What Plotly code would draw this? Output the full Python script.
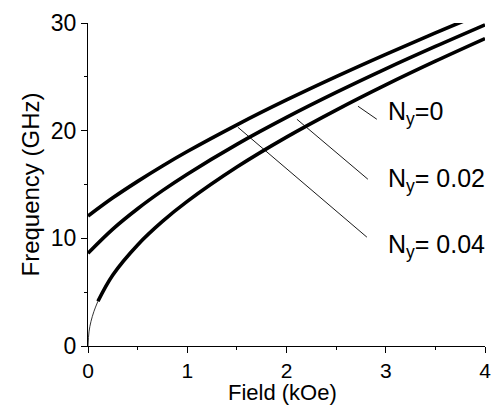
import plotly.graph_objects as go

# Field values (kOe)
field = [0.0, 0.25, 0.5, 0.75, 1.0, 1.5, 2.0, 2.5, 3.0, 3.5, 4.0]
# Frequencies (GHz)
freq_ny004 = [12.07, 13.76, 15.29, 16.72, 18.06, 20.54, 22.85, 25.02, 27.09, 29.08, 31.0]
freq_ny002 = [8.62, 10.86, 12.75, 14.43, 15.96, 18.73, 21.23, 23.55, 25.74, 27.82, 29.83]
# Ny = 0: thin low-field part and thick main part
field_ny0_thin = [0.0, 0.01, 0.03, 0.06, 0.1]
freq_ny0_thin = [0.0, 1.31, 2.28, 3.22, 4.16]
field_ny0 = [0.1, 0.25, 0.5, 0.75, 1.0, 1.5, 2.0, 2.5, 3.0, 3.5, 4.0]
freq_ny0 = [4.16, 6.60, 9.39, 11.57, 13.43, 16.62, 19.40, 21.91, 24.25, 26.45, 28.55]

labels = ["N<sub>y</sub>=0", "N<sub>y</sub>= 0.02", "N<sub>y</sub>= 0.04"]
label_pos = [(3.0, 21.6), (3.0, 15.4), (3.0, 9.3)]
pointers = [((2.72, 22.27), (2.91, 21.06)),
            ((2.105, 21.06), (2.82, 15.49)),
            ((1.51, 20.32), (2.81, 10.11))]

fig = go.Figure()
lw = 3.6
for xs, ys in [(field, freq_ny004), (field, freq_ny002), (field_ny0, freq_ny0)]:
    fig.add_trace(go.Scatter(x=xs, y=ys, mode="lines", line=dict(color="black", width=lw, shape="spline"), showlegend=False))
fig.add_trace(go.Scatter(x=field_ny0_thin, y=freq_ny0_thin, mode="lines", line=dict(color="black", width=0.8, shape="spline"), showlegend=False))

for (p0, p1) in pointers:
    fig.add_shape(type="line", x0=p0[0], y0=p0[1], x1=p1[0], y1=p1[1], xref="x", yref="y", line=dict(color="black", width=0.9))

for txt, (lx, ly) in zip(labels, label_pos):
    fig.add_annotation(x=lx, y=ly, text=txt, showarrow=False, xanchor="left", yanchor="middle",
                       font=dict(family="Liberation Sans, Arial", size=25, color="black"))

fig.add_annotation(x=0.49, y=-0.186, xref="paper", yref="paper", text="Field (kOe)", showarrow=False,
                   xanchor="center", yanchor="bottom", borderpad=0,
                   font=dict(family="Liberation Sans, Arial", size=22, color="black"))
fig.update_xaxes(range=[0, 4], tickvals=[0, 1, 2, 3, 4], ticks="outside", ticklen=6, tickwidth=1, tickcolor="black",
                 showline=True, linecolor="black", linewidth=1, showgrid=False, zeroline=False, automargin=False,
                 minor=dict(tickvals=[0.5, 1.5, 2.5, 3.5], ticks="outside", ticklen=3, tickcolor="black"),
                 tickfont=dict(family="Liberation Sans, Arial", size=21, color="black"))
fig.update_yaxes(range=[0, 30], tickvals=[0, 10, 20, 30], ticks="outside", ticklen=6, tickwidth=1, tickcolor="black",
                 showline=True, linecolor="black", linewidth=1, showgrid=False, zeroline=False, automargin=False,
                 minor=dict(tickvals=[5, 15, 25], ticks="outside", ticklen=3, tickcolor="black"),
                 tickfont=dict(family="Liberation Sans, Arial", size=23, color="black"),
                 title=dict(text="Frequency (GHz)", font=dict(family="Liberation Sans, Arial", size=24, color="black"), standoff=4))
fig.update_layout(width=492, height=406, margin=dict(l=88, r=7, t=23, b=60),
                  plot_bgcolor="white", paper_bgcolor="white")
fig.write_html("out.html")
